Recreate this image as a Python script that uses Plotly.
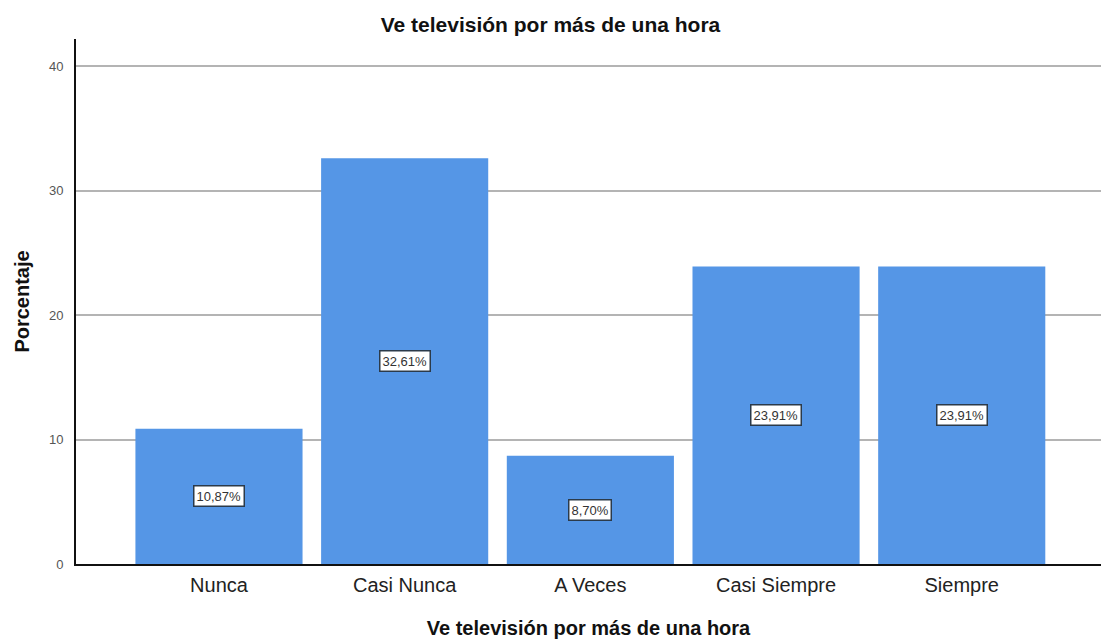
import plotly.graph_objects as go

categories = ["Nunca", "Casi Nunca", "A Veces", "Casi Siempre", "Siempre"]
percentages = [10.87, 32.61, 8.70, 23.91, 23.91]
labels = ["10,87%", "32,61%", "8,70%", "23,91%", "23,91%"]
y_ticks = [0, 10, 20, 30, 40]

FONT = "Liberation Sans, Arial, sans-serif"

fig = go.Figure()
fig.add_trace(go.Bar(
    x=list(range(len(categories))), y=percentages,
    marker=dict(color="#5596E6", line=dict(width=0)),
    width=0.9, hoverinfo="skip",
))

for i, (v, t) in enumerate(zip(percentages, labels)):
    fig.add_annotation(
        x=i, y=v / 2, text=t, showarrow=False,
        font=dict(family=FONT, size=13, color="#333333"),
        bgcolor="white", bordercolor="#2b3a4a", borderwidth=1.5, borderpad=2,
    )

fig.update_layout(
    width=1101, height=644,
    margin=dict(l=76, r=0, t=39, b=80, autoexpand=False),
    paper_bgcolor="white", plot_bgcolor="white",
    showlegend=False,
    title=dict(text="<b>Ve televisión por más de una hora</b>", x=0.5, xref="container",
               xanchor="center", y=0.962, yanchor="middle",
               font=dict(family=FONT, size=21, color="#111111")),
    font=dict(family=FONT, color="#222222"),
)

fig.update_xaxes(
    range=[-0.77, 4.75], tickmode="array",
    tickvals=list(range(len(categories))), ticktext=categories,
    tickfont=dict(size=20, color="#222222"),
    showline=True, linecolor="#111111", linewidth=2,
    showgrid=False, zeroline=False, ticks="", ticklabelstandoff=2,
    automargin=False,
    title=dict(text="<b>Ve televisión por más de una hora</b>",
               font=dict(size=20, color="#111111"), standoff=26),
)
fig.update_yaxes(
    range=[0, 42.2], tickmode="array", tickvals=y_ticks,
    ticktext=[str(v) for v in y_ticks],
    tickfont=dict(size=13, color="#555555"),
    showline=True, linecolor="#111111", linewidth=2,
    showgrid=True, gridcolor="#b4b4b4", gridwidth=1.5,
    zeroline=False, ticks="", ticklabelstandoff=8,
    automargin=False,
    title=dict(text="<b>Porcentaje</b>", font=dict(size=20, color="#111111"), standoff=14),
)

fig.write_html(
    "out.html",
    config={"displayModeBar": False},
    post_script="document.body.style.margin='0';document.documentElement.style.overflow='hidden';",
)
